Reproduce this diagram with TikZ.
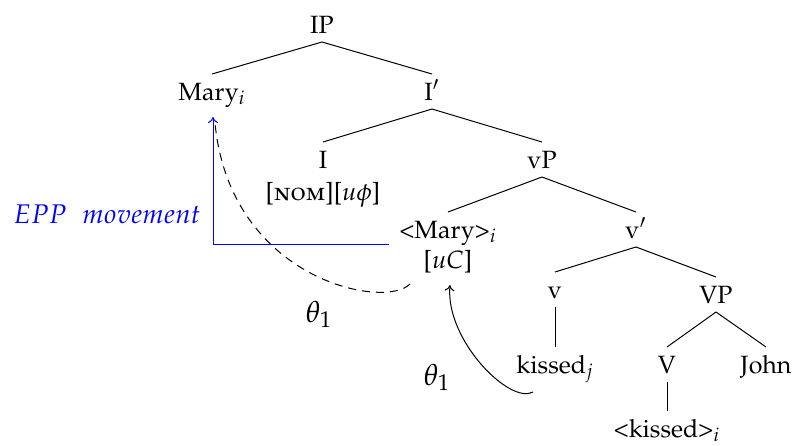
\documentclass[tikz,border=0pt]{standalone}
\usepackage[T1]{fontenc}
\usepackage[sc]{mathpazo}
\usetikzlibrary{arrows.meta}
\begin{document}
\begin{tikzpicture}[x=0.5pt,y=-0.5pt,
  font=\fontsize{12.5}{15}\selectfont,
  tn/.style={inner sep=0pt,outer sep=4.5pt,anchor=base,text height=8.5pt,text depth=0pt},
  edge/.style={line width=0.5pt},
  lab/.style={inner sep=0pt,anchor=base},
  mv/.style={line width=0.5pt,-{To[length=3pt,width=5pt]}}]
\useasboundingbox (0,0) rectangle (793,445);
% tree nodes
\node[tn] (IP) at (322,33) {IP};
\node[tn] (Mary) at (212,100) {Mary$_i$};
\node[tn] (Ibar) at (432,100) {I$'$};
\node[tn] (I) at (323,168) {I};
\node[lab] (Ifeat) at (323,200) {[\textsc{nom}][$u\phi$]};
\node[tn] (vP) at (542,168) {vP};
\node[tn] (MaryT) at (448,238) {\textless Mary\textgreater$_i$};
\node[lab] (uC) at (448,268) {[$uC$]};
\node[tn] (vbar) at (636,238) {v$'$};
\node[tn] (v) at (555,298) {v};
\node[tn] (VP) at (716,303) {VP};
\node[tn] (kissed) at (555,373) {kissed$_j$};
\node[tn] (V) at (667,373) {V};
\node[tn] (John) at (766,373) {John};
\node[tn] (kissedT) at (667,437) {\textless kissed\textgreater$_i$};
% tree edges
\draw[edge] (IP.south) -- (Mary.north);
\draw[edge] (IP.south) -- (Ibar.north);
\draw[edge] (Ibar.south) -- (I.north);
\draw[edge] (Ibar.south) -- (vP.north);
\draw[edge] (vP.south) -- (MaryT.north);
\draw[edge] (vP.south) -- (vbar.north);
\draw[edge] (vbar.south) -- (v.north);
\draw[edge] (vbar.south) -- (VP.north);
\draw[edge] (v.south) -- (kissed.north);
\draw[edge] (VP.south) -- (V.north);
\draw[edge] (VP.south) -- (John.north);
\draw[edge] (V.south) -- (kissedT.north);
% movement
\coordinate (eppS) at (389,244);
\coordinate (maryTip) at (213,117);
\coordinate (dashS) at (410,284);
\coordinate (dashE) at (215,123);
\coordinate (solS) at (533,392);
\coordinate (solE) at (450,285);
\node[lab,text=blue,font=\fontsize{13.5}{16}\selectfont] (epp) at (107,223) {$EPP$\hspace{8pt}$movement$};
\draw[mv,blue] (eppS) -| (maryTip);
\draw[edge,dashed,dash pattern=on 4pt off 3pt] (dashS) .. controls (385,310) and (230,280) .. (dashE);
\draw[mv] (solS) .. controls (510,405) and (445,340) .. (solE);
\node[lab,font=\fontsize{15}{18}\selectfont] (th1) at (319,322) {$\theta_1$};
\node[lab,font=\fontsize{15}{18}\selectfont] (th2) at (437,385) {$\theta_1$};
\end{tikzpicture}
\end{document}
